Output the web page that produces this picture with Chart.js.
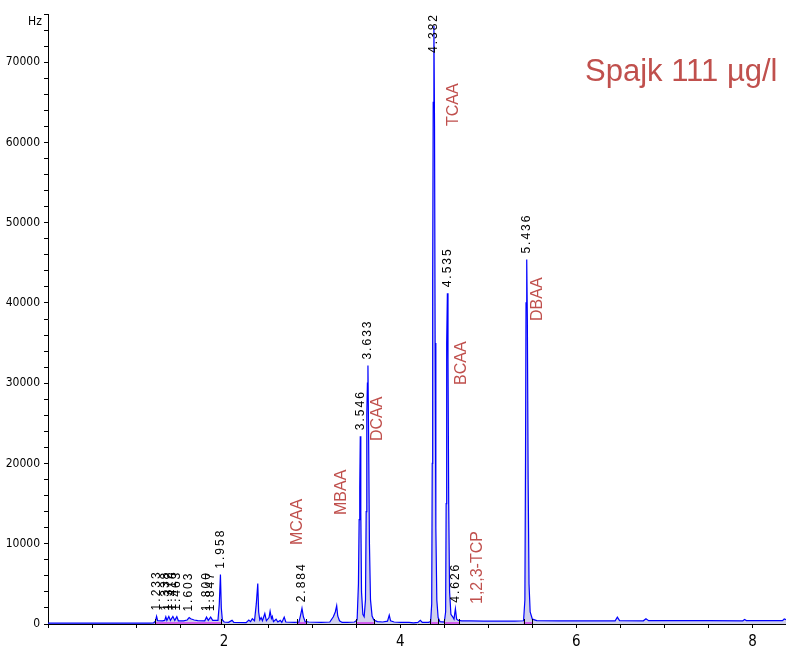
<!DOCTYPE html>
<html>
<head>
<meta charset="utf-8">
<script src="https://cdn.jsdelivr.net/npm/chart.js@4/dist/chart.umd.min.js"></script>
<style>
  html, body { margin: 0; padding: 0; background: #fff; }
  #wrap { width: 786px; height: 649px; }
</style>
</head>
<body>
<div id="wrap"><canvas id="chrom" width="786" height="649"></canvas></div>
<script>
// Retention time (min) and detector signal (Hz) of the chromatogram trace
const traceTime = [
  0.00, 0.30, 0.60, 0.90, 1.15, 1.20, 1.22, 1.233, 1.245, 1.30, 1.325, 1.338, 1.35, 1.372, 1.39,
  1.418, 1.44, 1.463, 1.48, 1.54, 1.58, 1.603, 1.62, 1.66, 1.70, 1.78, 1.800, 1.82, 1.847, 1.87,
  1.93, 1.945, 1.958, 1.968, 1.98, 2.00, 2.05, 2.09, 2.11, 2.25, 2.28, 2.30, 2.32, 2.345, 2.365,
  2.382, 2.392, 2.405, 2.42, 2.435, 2.462, 2.48, 2.51, 2.522, 2.537, 2.547, 2.56, 2.59, 2.61, 2.637,
  2.655, 2.682, 2.70, 2.80, 2.85, 2.87, 2.884, 2.90, 2.92, 2.96, 3.10, 3.20, 3.24, 3.262, 3.278,
  3.29, 3.31, 3.34, 3.40, 3.48, 3.51, 3.525, 3.533, 3.540, 3.546, 3.552, 3.560, 3.575, 3.59, 3.605,
  3.613, 3.620, 3.627, 3.633, 3.640, 3.650, 3.662, 3.68, 3.70, 3.74, 3.80, 3.855, 3.875, 3.89, 3.93,
  4.00, 4.10, 4.15, 4.20, 4.228, 4.25, 4.32, 4.345, 4.357, 4.363, 4.368, 4.374, 4.382, 4.389, 4.396,
  4.404, 4.415, 4.43, 4.45, 4.50, 4.515, 4.521, 4.527, 4.535, 4.542, 4.550, 4.560, 4.575, 4.595, 4.61,
  4.626, 4.64, 4.66, 4.70, 4.80, 4.95, 5.10, 5.30, 5.40, 5.415, 5.422, 5.428, 5.436, 5.443, 5.452,
  5.462, 5.475, 5.50, 5.55, 5.80, 6.20, 6.44, 6.465, 6.49, 6.76, 6.79, 6.82, 7.50, 7.89, 7.91,
  7.93, 8.30, 8.34, 8.36, 8.38
];
const traceSignal = [
  120, 110, 110, 100, 100, 150, 350, 950, 420, 400, 450, 900, 450, 950, 450,
  950, 450, 900, 400, 380, 500, 800, 650, 500, 420, 400, 850, 450, 850, 450,
  450, 2500, 6150, 2000, 500, 250, 200, 450, 200, 180, 500, 300, 650, 400, 2500,
  5050, 1500, 500, 800, 400, 1300, 400, 800, 1600, 700, 950, 300, 600, 250, 450,
  200, 850, 250, 200, 250, 1200, 1950, 900, 300, 250, 200, 250, 900, 1500, 2280,
  1000, 400, 200, 200, 250, 500, 5000, 13000, 17000, 23400, 14000, 4000, 1200, 900, 3000,
  14000, 26000, 30000, 32200, 24000, 10000, 3000, 1000, 500, 300, 250, 350, 1100, 400, 250,
  200, 200, 150, 200, 450, 200, 200, 300, 2500, 20000, 43000, 65000, 74500, 62000, 35000,
  12000, 3000, 800, 300, 250, 1500, 15000, 35000, 41200, 33000, 15000, 4000, 1200, 900, 600,
  1900, 600, 450, 400, 380, 350, 350, 350, 400, 3000, 20000, 40000, 45400, 38000, 18000,
  5000, 1500, 600, 420, 400, 400, 400, 850, 420, 400, 650, 420, 420, 400, 550,
  420, 420, 420, 620, 550
];

// Retention times printed above the integrated peaks
const peakTimes = [1.233, 1.338, 1.372, 1.418, 1.463, 1.603, 1.800, 1.847, 1.958,
                   2.884, 3.546, 3.633, 4.382, 4.535, 4.626, 5.436];

// Integration baselines (start / end, min)
const integStart = [1.22, 2.83, 3.50, 4.34, 4.50, 5.40];
const integEnd   = [1.97, 2.93, 3.70, 4.43, 4.67, 5.50];

// Compound names and where their captions sit (min, Hz)
const compoundNames = ['MCAA', 'MBAA', 'DCAA', 'TCAA', 'BCAA', '1,2,3-TCP', 'DBAA'];
const compoundTimes = [2.834, 3.334, 3.748, 4.606, 4.696, 4.878, 5.554];
const compoundLevels = [9840, 13580, 22800, 62050, 29780, 2490, 37750];

const sampleTitle = 'Spajk 111 µg/l';
const yUnit = 'Hz';

const NARROW = "'Liberation Sans Narrow', 'DejaVu Sans Condensed', 'Arial Narrow', sans-serif";
const SANS = "'Liberation Sans', Arial, sans-serif";
const RED = '#c0504d';

const traceData = traceTime.map((t, i) => ({ x: t, y: traceSignal[i] }));
const integData = [];
integStart.forEach((s, i) => {
  integData.push({ x: s, y: 120 }, { x: integEnd[i], y: 120 }, { x: integEnd[i], y: null });
});

const annotations = {
  id: 'annotations',
  afterDatasetsDraw(chart) {
    const { ctx, scales: { x, y }, chartArea } = chart;
    ctx.save();
    // integration markers
    ctx.strokeStyle = '#000';
    ctx.lineWidth = 1;
    integStart.concat(integEnd).forEach(t => {
      const px = Math.round(x.getPixelForValue(t)) + 0.5;
      const py = y.getPixelForValue(0);
      ctx.beginPath(); ctx.moveTo(px, py); ctx.lineTo(px, py - 5); ctx.stroke();
    });
    // retention-time labels
    ctx.fillStyle = '#000';
    ctx.font = '12px ' + SANS;
    ctx.letterSpacing = '2px';
    ctx.textAlign = 'left';
    ctx.textBaseline = 'middle';
    peakTimes.forEach(t => {
      const idx = traceTime.indexOf(t);
      const v = traceSignal[idx];
      const label = t.toFixed(3);
      const w = ctx.measureText(label).width;
      const px = x.getPixelForValue(t);
      let start = y.getPixelForValue(v) - 6;
      if (start - w < chartArea.top - 1) start = chartArea.top - 1 + w;
      ctx.save();
      ctx.translate(px, start);
      ctx.rotate(-Math.PI / 2);
      ctx.fillText(label, 0, 0);
      ctx.restore();
    });
    ctx.letterSpacing = '0px';
    // compound captions
    ctx.fillStyle = RED;
    ctx.font = '16px ' + SANS;
    compoundNames.forEach((name, i) => {
      const px = x.getPixelForValue(compoundTimes[i]);
      const py = y.getPixelForValue(compoundLevels[i]);
      ctx.save();
      ctx.translate(px, py);
      ctx.rotate(-Math.PI / 2);
      ctx.fillText(name, 0, 0);
      ctx.restore();
    });
    // sample title
    ctx.font = '31px ' + SANS;
    ctx.textBaseline = 'alphabetic';
    ctx.fillText(sampleTitle, 585, 81);
    // unit
    ctx.fillStyle = '#000';
    ctx.font = '12px ' + NARROW;
    ctx.textAlign = 'center';
    ctx.textBaseline = 'middle';
    ctx.fillText(yUnit, 35, 22);
    ctx.restore();
  }
};

new Chart(document.getElementById('chrom'), {
  type: 'line',
  data: {
    datasets: [
      {
        data: traceData,
        borderColor: '#0000ff',
        borderWidth: 1.2,
        backgroundColor: 'rgba(170,170,220,0.55)',
        fill: 'origin',
        pointRadius: 0,
        tension: 0,
        order: 1
      },
      {
        data: integData,
        borderColor: '#ff00ff',
        borderWidth: 2,
        pointRadius: 0,
        fill: false,
        spanGaps: false,
        order: 2
      }
    ]
  },
  options: {
    responsive: false,
    animation: false,
    events: [],
    layout: { padding: { top: 14, right: 0, left: 0, bottom: 0 } },
    plugins: { legend: { display: false }, tooltip: { enabled: false } },
    scales: {
      x: {
        type: 'linear',
        min: 0,
        max: 8.38,
        afterFit(s) { s.height = 25; s.paddingLeft = 0; s.paddingRight = 0; },
        border: { display: true, color: '#000', width: 1 },
        grid: { display: true, drawOnChartArea: false, drawTicks: true, tickLength: 4, color: '#000' },
        ticks: {
          stepSize: 0.5,
          includeBounds: false,
          autoSkip: false,
          maxRotation: 0,
          padding: 5,
          color: '#000',
          font: { family: NARROW, size: 15 },
          callback: v => {
            const r = Math.round(v);
            return (r > 0 && r % 2 === 0 && Math.abs(v - r) < 1e-6) ? String(r) : '';
          }
        }
      },
      y: {
        type: 'linear',
        min: 0,
        max: 76000,
        afterFit(s) { s.width = 48; s.paddingTop = 0; s.paddingBottom = 0; },
        border: { display: true, color: '#000', width: 1 },
        grid: { display: true, drawOnChartArea: false, drawTicks: true, tickLength: 4, color: '#000' },
        ticks: {
          stepSize: 2000,
          autoSkip: false,
          padding: 4,
          color: '#000',
          font: { family: NARROW, size: 12 },
          callback: v => (v % 10000 === 0) ? String(v) : ''
        }
      }
    }
  },
  plugins: [annotations]
});
</script>
</body>
</html>
